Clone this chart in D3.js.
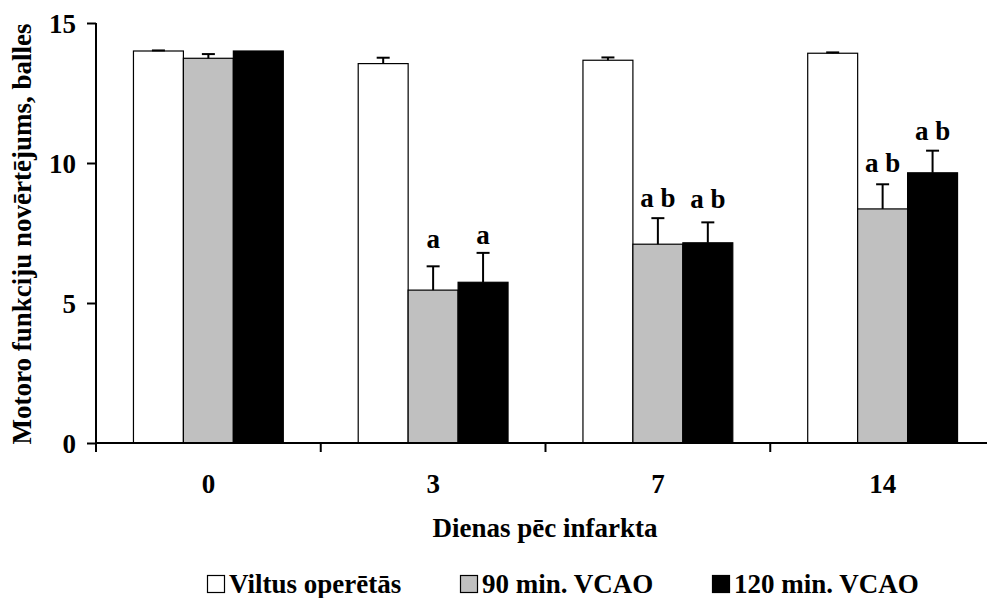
<!DOCTYPE html>
<html>
<head>
<meta charset="utf-8">
<script src="https://cdn.jsdelivr.net/npm/d3@7/dist/d3.min.js"></script>
<style>
  body { margin: 0; background: #fff; }
  svg text { font-family: "Liberation Serif", "Times New Roman", serif; font-weight: bold; fill: #000; }
</style>
</head>
<body>
<svg id="chart" width="987" height="598"></svg>
<script>
// ---- data ----
const categories = ["0", "3", "7", "14"];
const seriesNames = ["Viltus operētās", "90 min. VCAO", "120 min. VCAO"];
const seriesColors = ["#ffffff", "#c0c0c0", "#000000"];
const sham   = [14.0, 13.55, 13.67, 13.92];
const vcao90 = [13.74, 5.46, 7.10, 8.36];
const vcao120 = [14.0, 5.74, 7.15, 9.65];
const shamErr   = [0.02, 0.21, 0.10, 0.03];
const vcao90Err = [0.15, 0.85, 0.93, 0.88];
const vcao120Err = [0.0, 1.05, 0.73, 0.79];
const vcao90Label = ["", "a", "a b", "a b"];
const vcao120Label = ["", "a", "a b", "a b"];
const vcao90LabelY = [null, 6.95, 8.44, 9.69];
const vcao120LabelY = [null, 7.11, 8.38, 10.82];
const yTicks = [0, 5, 10, 15];
const yTitle = "Motoro funkciju novērtējums, balles";
const xTitle = "Dienas pēc infarkta";

const values = [sham, vcao90, vcao120];
const errs = [shamErr, vcao90Err, vcao120Err];
const labels = [null, vcao90Label, vcao120Label];
const labelYs = [null, vcao90LabelY, vcao120LabelY];

const svg = d3.select("#chart");
const mLeft = 96, mRight = 995, mTop = 23, mBottom = 443;
const FS = 27;

const x0 = d3.scaleBand().domain(categories).range([mLeft, mRight]).padding(0);
const bw = x0.bandwidth();
const x1 = d3.scaleBand().domain(d3.range(seriesNames.length)).range([bw / 6, bw * 5 / 6]).padding(0);
const y = d3.scaleLinear().domain([0, 15]).range([mBottom, mTop]);

// bars
const data = [];
categories.forEach((c, i) => {
  seriesNames.forEach((s, j) => {
    data.push({ c, j, v: values[j][i], e: errs[j][i],
      lab: labels[j] ? labels[j][i] : "", ly: labelYs[j] ? labelYs[j][i] : null });
  });
});

const g = svg.append("g");
g.selectAll("rect.bar").data(data).join("rect")
  .attr("class", "bar")
  .attr("x", d => x0(d.c) + x1(d.j))
  .attr("y", d => y(d.v))
  .attr("width", x1.bandwidth())
  .attr("height", d => y(0) - y(d.v))
  .attr("fill", d => seriesColors[d.j])
  .attr("stroke", "#000")
  .attr("stroke-width", 1.2);

// error bars (upper only)
const eb = g.selectAll("g.err").data(data.filter(d => d.e > 0)).join("g").attr("class", "err");
eb.append("line")
  .attr("x1", d => x0(d.c) + x1(d.j) + x1.bandwidth() / 2)
  .attr("x2", d => x0(d.c) + x1(d.j) + x1.bandwidth() / 2)
  .attr("y1", d => y(d.v))
  .attr("y2", d => y(d.v + d.e))
  .attr("stroke", "#000").attr("stroke-width", 2);
eb.append("line")
  .attr("x1", d => x0(d.c) + x1(d.j) + x1.bandwidth() / 2 - 6.5)
  .attr("x2", d => x0(d.c) + x1(d.j) + x1.bandwidth() / 2 + 6.5)
  .attr("y1", d => y(d.v + d.e))
  .attr("y2", d => y(d.v + d.e))
  .attr("stroke", "#000").attr("stroke-width", 2);

// significance labels
g.selectAll("text.sig").data(data.filter(d => d.lab)).join("text")
  .attr("class", "sig")
  .attr("x", d => x0(d.c) + x1(d.j) + x1.bandwidth() / 2)
  .attr("y", d => y(d.ly))
  .attr("text-anchor", "middle")
  .attr("font-size", FS)
  .text(d => d.lab);

// y axis
const yAxis = d3.axisLeft(y).tickValues(yTicks).tickSize(9).tickPadding(11).tickFormat(d3.format("d"));
const ya = svg.append("g").attr("transform", `translate(${mLeft},0)`).call(yAxis);
ya.select(".domain").attr("stroke", "#000").attr("stroke-width", 2).attr("d", `M0,${mTop}V${mBottom}`);
ya.selectAll(".tick line").attr("stroke", "#000").attr("stroke-width", 2);
ya.selectAll(".tick text").attr("font-size", FS).attr("font-family", "Liberation Serif, Times New Roman, serif").attr("font-weight", "bold").attr("dy", "0.34em");

// x axis line
svg.append("line").attr("x1", mLeft - 1).attr("x2", 987).attr("y1", mBottom).attr("y2", mBottom)
  .attr("stroke", "#000").attr("stroke-width", 2);
// x ticks at band boundaries
const bounds = categories.map(c => x0(c)).concat([x0.range()[1]]);
svg.selectAll("line.xt").data(bounds).join("line").attr("class", "xt")
  .attr("x1", d => d).attr("x2", d => d).attr("y1", mBottom).attr("y2", mBottom + 9)
  .attr("stroke", "#000").attr("stroke-width", 2);
svg.selectAll("text.xl").data(categories).join("text").attr("class", "xl")
  .attr("x", d => x0(d) + bw / 2).attr("y", mBottom + 50)
  .attr("text-anchor", "middle").attr("font-size", FS).text(d => d);

// axis titles
svg.append("text").attr("x", 545).attr("y", 537).attr("text-anchor", "middle")
  .attr("font-size", FS).text(xTitle);
svg.append("text").attr("transform", `translate(31,${(mTop + mBottom) / 2 + 1}) rotate(-90)`)
  .attr("text-anchor", "middle").attr("font-size", FS).text(yTitle);

// legend
const legendX = [207, 460, 712];
const lg = svg.selectAll("g.leg").data(seriesNames).join("g").attr("class", "leg")
  .attr("transform", (d, i) => `translate(${legendX[i]},575)`);
lg.append("rect").attr("x", 0.5).attr("y", 0.5).attr("width", 17).attr("height", 17)
  .attr("fill", (d, i) => seriesColors[i]).attr("stroke", "#000").attr("stroke-width", 1.2);
lg.append("text").attr("x", 22).attr("y", 18).attr("font-size", FS).text(d => d);
</script>
</body>
</html>
